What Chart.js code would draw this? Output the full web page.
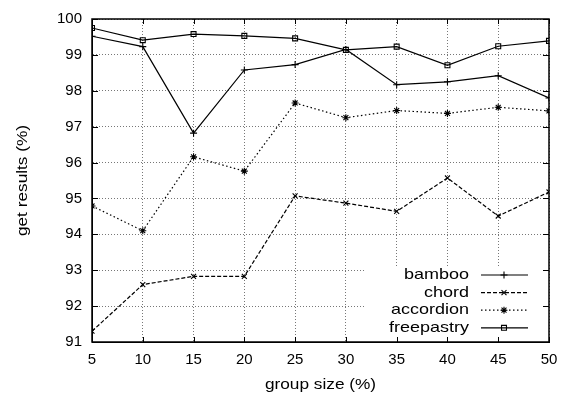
<!DOCTYPE html>
<html>
<head>
<meta charset="utf-8">
<script src="https://cdn.jsdelivr.net/npm/chart.js@4.4.1/dist/chart.umd.min.js"></script>
<style>
  html, body { margin: 0; padding: 0; background: #fff; }
  #wrap { width: 580px; height: 398px; }
</style>
</head>
<body>
<div id="wrap"><canvas id="chart" width="580" height="398"></canvas></div>
<script>
// group size (%) on the x axis
const groupSizes = [5, 10, 15, 20, 25, 30, 35, 40, 45, 50];

// get results (%) per protocol
const bamboo     = [99.52, 99.23, 96.82, 98.58, 98.73, 99.15, 98.17, 98.25, 98.42, 97.80];
const chord      = [91.30, 92.60, 92.83, 92.83, 95.07, 94.87, 94.64, 95.57, 94.51, 95.18];
const accordion  = [94.79, 94.10, 96.16, 95.76, 97.66, 97.25, 97.45, 97.37, 97.54, 97.44];
const freepastry = [99.75, 99.41, 99.58, 99.53, 99.46, 99.14, 99.23, 98.71, 99.24, 99.39];

const seriesNames = ["bamboo", "chord", "accordion", "freepastry"];

const FONT = "'Liberation Sans', Arial, sans-serif";

function toPoints(vals) {
  return groupSizes.map((x, i) => ({ x: x, y: vals[i] }));
}

// text a bit wider than Liberation Sans, like the gnuplot output
function wideText(ctx, txt, x, y, sx) {
  ctx.save();
  ctx.translate(x, y);
  ctx.scale(sx, 1);
  ctx.fillText(txt, 0, 0);
  ctx.restore();
}

// gnuplot style frame: white key box, inward ticks on all sides, titles, key
const gnuplotFrame = {
  id: "gnuplotFrame",
  beforeDatasetsDraw(chart) {
    const a = chart.chartArea;
    const ctx = chart.ctx;
    ctx.save();
    ctx.fillStyle = "#fff";
    ctx.fillRect(a.right - 184, a.bottom - 76, 183, 75);
    ctx.restore();
  },
  afterDraw(chart) {
    const a = chart.chartArea;
    const ctx = chart.ctx;
    const xs = chart.scales.x, ys = chart.scales.y;
    ctx.save();
    ctx.strokeStyle = "#000";
    ctx.lineWidth = 1;
    ctx.beginPath();
    xs.ticks.forEach(t => {
      const px = Math.round(xs.getPixelForValue(t.value)) + 0.5;
      ctx.moveTo(px, a.bottom); ctx.lineTo(px, a.bottom - 5);
      ctx.moveTo(px, a.top); ctx.lineTo(px, a.top + 5);
    });
    ys.ticks.forEach(t => {
      const py = Math.round(ys.getPixelForValue(t.value)) + 0.5;
      ctx.moveTo(a.left, py); ctx.lineTo(a.left + 6, py);
      ctx.moveTo(a.right, py); ctx.lineTo(a.right - 6, py);
    });
    ctx.stroke();

    // plot border
    ctx.lineWidth = 1.5;
    ctx.strokeRect(a.left, a.top, a.right - a.left, a.bottom - a.top);

    // axis titles
    ctx.fillStyle = "#000";
    ctx.font = "15px " + FONT;
    ctx.textAlign = "center";
    ctx.textBaseline = "middle";
    wideText(ctx, "group size (%)", (a.left + a.right) / 2, 385, 1.15);
    ctx.translate(23, (a.top + a.bottom) / 2);
    ctx.rotate(-Math.PI / 2);
    wideText(ctx, "get results (%)", 0, 0, 1.15);
    ctx.restore();

    // key
    ctx.save();
    ctx.font = "15px " + FONT;
    ctx.textAlign = "right";
    ctx.textBaseline = "middle";
    chart.data.datasets.forEach((ds, i) => {
      const y = a.bottom - 67 + i * 17.6;
      ctx.fillStyle = "#000";
      wideText(ctx, ds.label, a.right - 80, y, 1.2);
      ctx.strokeStyle = "#000";
      ctx.lineWidth = ds.borderWidth;
      ctx.setLineDash(ds.borderDash || []);
      ctx.beginPath();
      ctx.moveTo(a.right - 68, y);
      ctx.lineTo(a.right - 21, y);
      ctx.stroke();
      ctx.setLineDash([]);
      ctx.fillStyle = ds.pointBackgroundColor;
      ctx.lineWidth = ds.pointBorderWidth;
      Chart.helpers.drawPoint(ctx, {
        pointStyle: ds.pointStyle, radius: ds.pointRadius,
        borderWidth: ds.pointBorderWidth, rotation: 0
      }, a.right - 45, y);
    });
    ctx.restore();
  }
};

function mkSet(label, vals, style, dash) {
  return {
    label: label,
    data: toPoints(vals),
    borderColor: "#000",
    borderWidth: 1.2,
    borderDash: dash,
    pointStyle: style,
    pointRadius: 3.5,
    pointBorderWidth: 1.1,
    pointBorderColor: "#000",
    pointBackgroundColor: "rgba(0,0,0,0)",
    fill: false,
    tension: 0
  };
}

new Chart(document.getElementById("chart").getContext("2d"), {
  type: "line",
  data: {
    datasets: [
      mkSet(seriesNames[0], bamboo, "cross", []),
      mkSet(seriesNames[1], chord, "crossRot", [4, 2]),
      mkSet(seriesNames[2], accordion, "star", [1.5, 2.5]),
      mkSet(seriesNames[3], freepastry, "rect", [])
    ]
  },
  options: {
    responsive: false,
    animation: false,
    events: [],
    layout: { padding: { top: 13, right: 31, left: 0, bottom: 0 } },
    plugins: {
      legend: { display: false },
      tooltip: { enabled: false }
    },
    scales: {
      x: {
        type: "linear",
        min: 5,
        max: 50,
        afterFit: s => { s.height = 56; },
        grid: { color: "#777", drawTicks: false, lineWidth: 1 },
        border: { display: true, color: "#000", width: 1, dash: [1, 2] },
        ticks: {
          stepSize: 5,
          padding: 9,
          color: "#000",
          maxRotation: 0,
          font: { family: FONT, size: 15 }
        }
      },
      y: {
        min: 91,
        max: 100,
        afterFit: s => { s.width = 92; },
        grid: { color: "#777", drawTicks: false, lineWidth: 1 },
        border: { display: true, color: "#000", width: 1, dash: [1, 2] },
        ticks: {
          stepSize: 1,
          padding: 10,
          color: "#000",
          font: { family: FONT, size: 15 }
        }
      }
    }
  },
  plugins: [gnuplotFrame]
});
</script>
</body>
</html>
